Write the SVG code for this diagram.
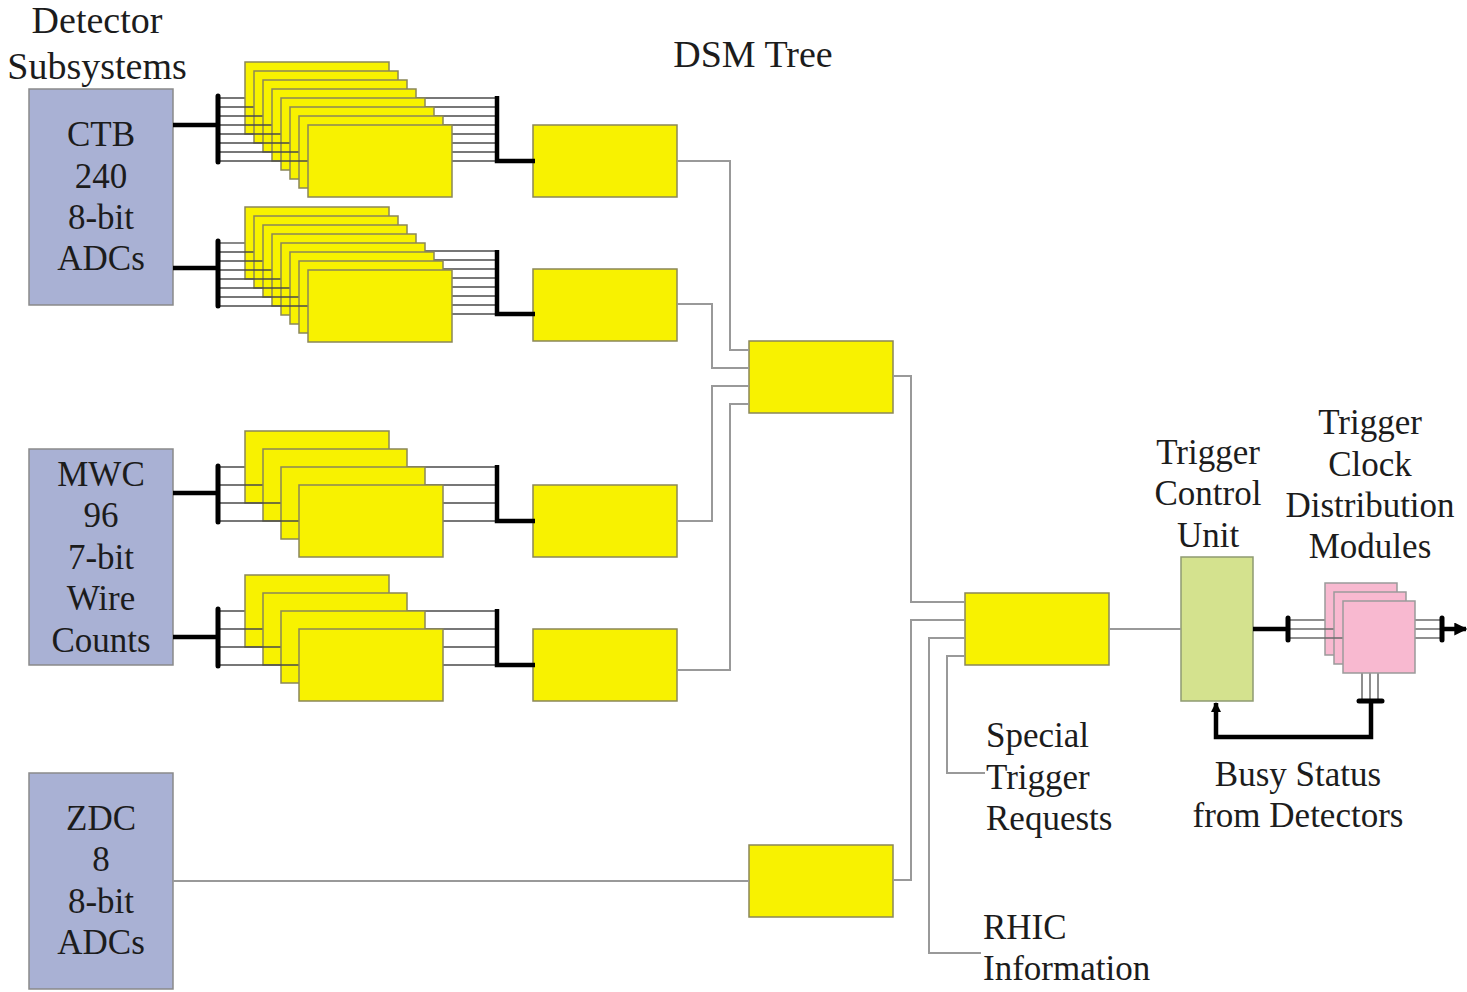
<svg xmlns="http://www.w3.org/2000/svg" width="1467" height="992" viewBox="0 0 1467 992">
<defs>
<style>
text{font-family:"Liberation Serif","Times New Roman",serif;font-size:35px;fill:#1c1c1c}
.c{text-anchor:middle}
.t{font-size:38px}
.det{fill:#a9b1d4;stroke:#8a8a8a;stroke-width:1.5}
.dsm{fill:#f8f200;stroke:#8a8758;stroke-width:1.5}
.tcu{fill:#d4e28e;stroke:#8e9a72;stroke-width:1.5}
.tcd{fill:#f8b9d0;stroke:#9a9a9a;stroke-width:1.5}
.ln{stroke:#4a4a4a;stroke-width:1.3;fill:none}
.pl{stroke:#6a6a6a;stroke-width:1.5;fill:none}
.bus{stroke:#000;stroke-width:4.5;fill:none}
.bar{stroke:#000;stroke-width:5;stroke-linecap:round;fill:none}
.wire{stroke:#999;stroke-width:2;fill:none}
</style>
<marker id="ah" viewBox="0 0 10 10" refX="9" refY="5" markerUnits="userSpaceOnUse" markerWidth="16" markerHeight="13" orient="auto">
<path d="M0,0 L10,5 L0,10 z" fill="#000"/>
</marker>
<marker id="ahs" viewBox="0 0 10 10" refX="9" refY="5" markerUnits="userSpaceOnUse" markerWidth="14" markerHeight="10" orient="auto">
<path d="M0,0 L10,5 L0,10 z" fill="#000"/>
</marker>
</defs>
<rect width="1467" height="992" fill="#fff"/>

<text class="c t" x="97" y="33">Detector</text>
<text class="c t" x="97" y="79">Subsystems</text>
<text class="c t" x="753" y="67">DSM Tree</text>

<g id="det-ctb">
<rect class="det" x="29" y="89" width="144" height="216"/>
<text class="c" x="101" y="146">CTB</text>
<text class="c" x="101" y="188">240</text>
<text class="c" x="101" y="229">8-bit</text>
<text class="c" x="101" y="270">ADCs</text>
</g>
<g id="det-mwc">
<rect class="det" x="29" y="449" width="144" height="216"/>
<text class="c" x="101" y="486">MWC</text>
<text class="c" x="101" y="527">96</text>
<text class="c" x="101" y="569">7-bit</text>
<text class="c" x="101" y="610">Wire</text>
<text class="c" x="101" y="652">Counts</text>
</g>
<g id="det-zdc">
<rect class="det" x="29" y="773" width="144" height="216"/>
<text class="c" x="101" y="830">ZDC</text>
<text class="c" x="101" y="871">8</text>
<text class="c" x="101" y="913">8-bit</text>
<text class="c" x="101" y="954">ADCs</text>
</g>

<!-- Layer 0 stacks: CTB A (8 boards) -->
<g id="l0-ctb-a">
<line class="ln" x1="218" y1="98" x2="497" y2="98"/><rect class="dsm" x="245" y="62" width="144" height="72"/>
<line class="ln" x1="218" y1="107" x2="497" y2="107"/><rect class="dsm" x="254" y="71" width="144" height="72"/>
<line class="ln" x1="218" y1="116" x2="497" y2="116"/><rect class="dsm" x="263" y="80" width="144" height="72"/>
<line class="ln" x1="218" y1="125" x2="497" y2="125"/><rect class="dsm" x="272" y="89" width="144" height="72"/>
<line class="ln" x1="218" y1="134" x2="497" y2="134"/><rect class="dsm" x="281" y="98" width="144" height="72"/>
<line class="ln" x1="218" y1="143" x2="497" y2="143"/><rect class="dsm" x="290" y="107" width="144" height="72"/>
<line class="ln" x1="218" y1="152" x2="497" y2="152"/><rect class="dsm" x="299" y="116" width="144" height="72"/>
<line class="ln" x1="218" y1="161" x2="497" y2="161"/><rect class="dsm" x="308" y="125" width="144" height="72"/>
</g>
<!-- CTB B -->
<g id="l0-ctb-b">
<line class="ln" x1="218" y1="243" x2="246" y2="243"/><line class="ln" x1="389" y1="251" x2="497" y2="251"/><rect class="dsm" x="245" y="207" width="144" height="72"/>
<line class="ln" x1="218" y1="252" x2="255" y2="252"/><line class="ln" x1="398" y1="260" x2="497" y2="260"/><rect class="dsm" x="254" y="216" width="144" height="72"/>
<line class="ln" x1="218" y1="261" x2="264" y2="261"/><line class="ln" x1="407" y1="269" x2="497" y2="269"/><rect class="dsm" x="263" y="225" width="144" height="72"/>
<line class="ln" x1="218" y1="270" x2="273" y2="270"/><line class="ln" x1="416" y1="278" x2="497" y2="278"/><rect class="dsm" x="272" y="234" width="144" height="72"/>
<line class="ln" x1="218" y1="279" x2="282" y2="279"/><line class="ln" x1="425" y1="287" x2="497" y2="287"/><rect class="dsm" x="281" y="243" width="144" height="72"/>
<line class="ln" x1="218" y1="288" x2="291" y2="288"/><line class="ln" x1="434" y1="296" x2="497" y2="296"/><rect class="dsm" x="290" y="252" width="144" height="72"/>
<line class="ln" x1="218" y1="297" x2="300" y2="297"/><line class="ln" x1="443" y1="305" x2="497" y2="305"/><rect class="dsm" x="299" y="261" width="144" height="72"/>
<line class="ln" x1="218" y1="306" x2="309" y2="306"/><line class="ln" x1="452" y1="314" x2="497" y2="314"/><rect class="dsm" x="308" y="270" width="144" height="72"/>
</g>
<!-- MWC A -->
<g id="l0-mwc-a">
<line class="ln" x1="218" y1="467" x2="497" y2="467"/><rect class="dsm" x="245" y="431" width="144" height="72"/>
<line class="ln" x1="218" y1="485" x2="497" y2="485"/><rect class="dsm" x="263" y="449" width="144" height="72"/>
<line class="ln" x1="218" y1="503" x2="497" y2="503"/><rect class="dsm" x="281" y="467" width="144" height="72"/>
<line class="ln" x1="218" y1="521" x2="497" y2="521"/><rect class="dsm" x="299" y="485" width="144" height="72"/>
</g>
<!-- MWC B -->
<g id="l0-mwc-b">
<line class="ln" x1="218" y1="611" x2="497" y2="611"/><rect class="dsm" x="245" y="575" width="144" height="72"/>
<line class="ln" x1="218" y1="629" x2="497" y2="629"/><rect class="dsm" x="263" y="593" width="144" height="72"/>
<line class="ln" x1="218" y1="647" x2="497" y2="647"/><rect class="dsm" x="281" y="611" width="144" height="72"/>
<line class="ln" x1="218" y1="665" x2="497" y2="665"/><rect class="dsm" x="299" y="629" width="144" height="72"/>
</g>

<!-- Layer 1 DSMs -->
<g id="l1-ctb-a"><rect class="dsm" x="533" y="125" width="144" height="72"/></g>
<g id="l1-ctb-b"><rect class="dsm" x="533" y="269" width="144" height="72"/></g>
<g id="l1-mwc-a"><rect class="dsm" x="533" y="485" width="144" height="72"/></g>
<g id="l1-mwc-b"><rect class="dsm" x="533" y="629" width="144" height="72"/></g>
<g id="l2-dsm"><rect class="dsm" x="749" y="341" width="144" height="72"/></g>
<g id="l1-zdc"><rect class="dsm" x="749" y="845" width="144" height="72"/></g>
<g id="l3-dsm"><rect class="dsm" x="965" y="593" width="144" height="72"/></g>

<g id="tcu">
<rect class="tcu" x="1181" y="557" width="72" height="144"/>
<text class="c" x="1208" y="464">Trigger</text>
<text class="c" x="1208" y="505">Control</text>
<text class="c" x="1208" y="547">Unit</text>
</g>

<g id="tcd">
<line class="pl" x1="1288" y1="620" x2="1442" y2="620"/>
<line class="pl" x1="1362" y1="640" x2="1362" y2="701"/>
<rect class="tcd" x="1325" y="583" width="72" height="72"/>
<line class="pl" x1="1288" y1="629" x2="1442" y2="629"/>
<line class="pl" x1="1370" y1="650" x2="1370" y2="701"/>
<rect class="tcd" x="1334" y="592" width="72" height="72"/>
<line class="pl" x1="1288" y1="638" x2="1442" y2="638"/>
<line class="pl" x1="1378" y1="660" x2="1378" y2="701"/>
<rect class="tcd" x="1343" y="601" width="72" height="72"/>
<text class="c" x="1370" y="434">Trigger</text>
<text class="c" x="1370" y="476">Clock</text>
<text class="c" x="1370" y="517">Distribution</text>
<text class="c" x="1370" y="558">Modules</text>
</g>

<g id="labels">
<text x="986" y="747">Special</text>
<text x="986" y="789">Trigger</text>
<text x="986" y="830">Requests</text>
<text x="983" y="939">RHIC</text>
<text x="983" y="980">Information</text>
<text class="c" x="1298" y="786">Busy Status</text>
<text class="c" x="1298" y="827">from Detectors</text>
</g>

<g id="connectors">
<polyline class="bus" points="173,125 218,125"/>
<line class="bar" x1="218" y1="96" x2="218" y2="162"/>
<polyline class="bus" points="497,96 497,161 535,161"/>
<polyline class="bus" points="173,268 218,268"/>
<line class="bar" x1="218" y1="241" x2="218" y2="306"/>
<polyline class="bus" points="497,250 497,314 535,314"/>
<polyline class="bus" points="173,493 218,493"/>
<line class="bar" x1="218" y1="466" x2="218" y2="522"/>
<polyline class="bus" points="497,465 497,521 535,521"/>
<polyline class="bus" points="173,637 218,637"/>
<line class="bar" x1="218" y1="609" x2="218" y2="666"/>
<polyline class="bus" points="497,609 497,665 535,665"/>

<polyline class="wire" points="677,161 730,161 730,350 749,350"/>
<polyline class="wire" points="677,304 712,304 712,368 749,368"/>
<polyline class="wire" points="677,521 712,521 712,386 749,386"/>
<polyline class="wire" points="677,670 730,670 730,404 749,404"/>
<polyline class="wire" points="173,881 749,881"/>
<polyline class="wire" points="893,376 911,376 911,602 965,602"/>
<polyline class="wire" points="893,880 911,880 911,620 965,620"/>
<polyline class="wire" points="981,953 929,953 929,638 965,638"/>
<polyline class="wire" points="985,773 947,773 947,656 965,656"/>
<polyline class="wire" points="1109,629 1181,629"/>

<polyline class="bus" points="1253,629 1288,629"/>
<line class="bar" x1="1288" y1="618" x2="1288" y2="640"/>
<line class="bar" x1="1442" y1="618" x2="1442" y2="640"/>
<line class="bus" x1="1442" y1="629" x2="1466" y2="629" marker-end="url(#ah)"/>

<line class="bar" x1="1359" y1="701" x2="1382" y2="701"/>
<polyline class="bus" points="1371,701 1371,737 1216,737 1216,703" marker-end="url(#ahs)"/>
</g>
</svg>
